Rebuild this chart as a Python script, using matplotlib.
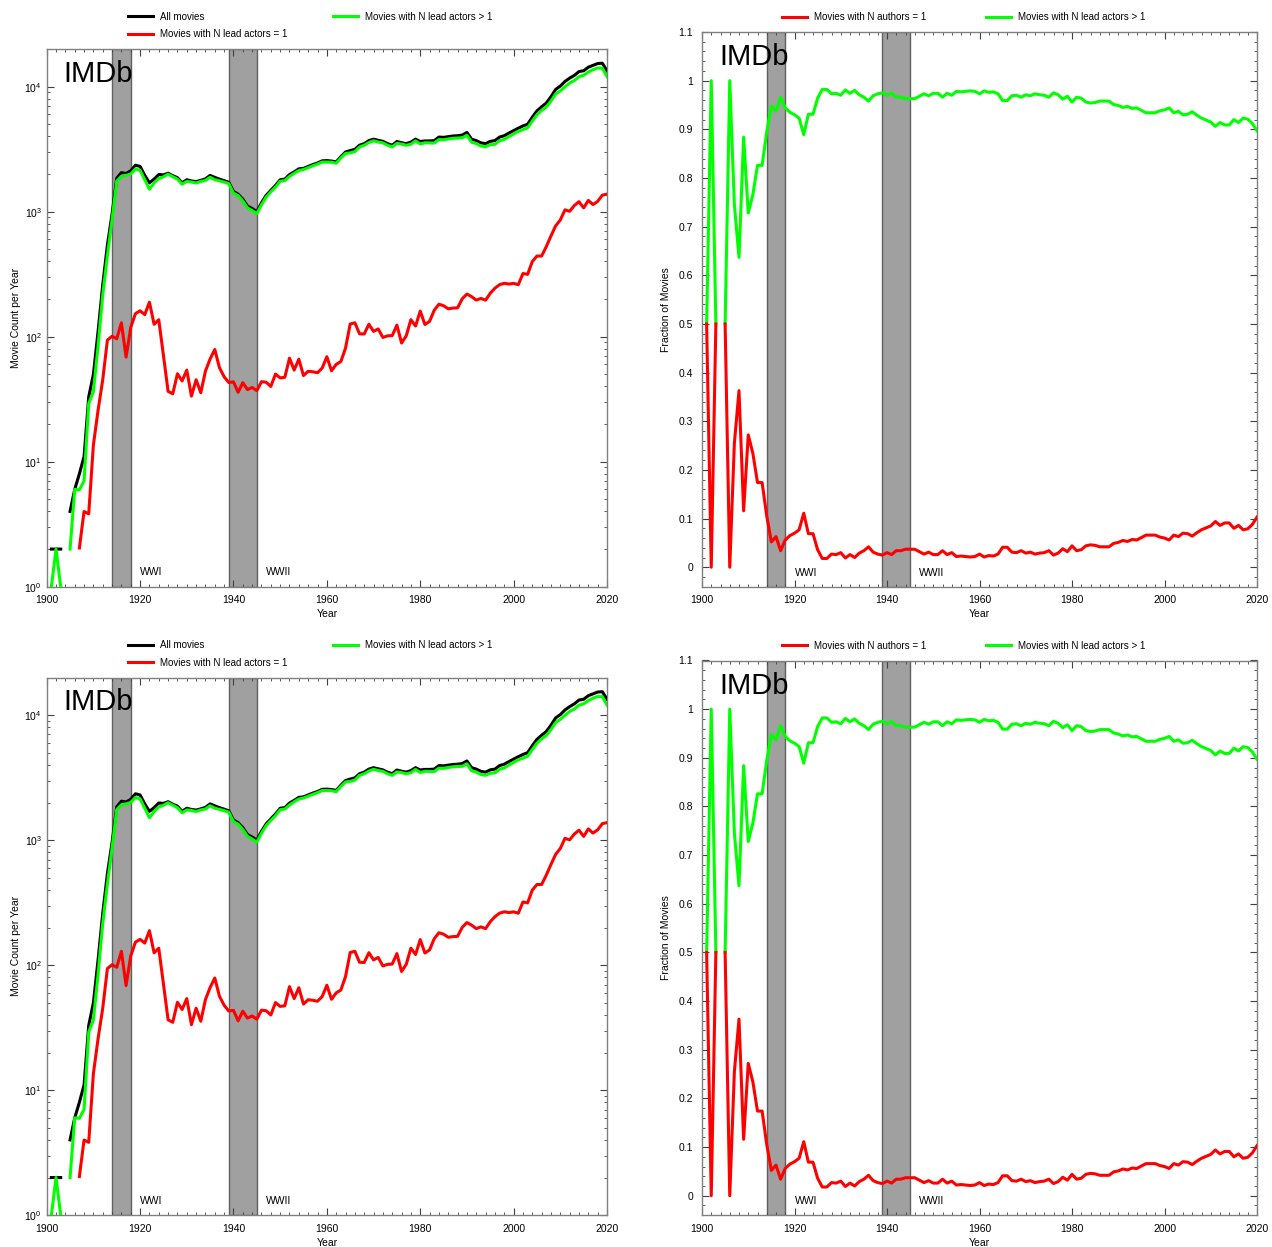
import numpy as np
import matplotlib.pyplot as plt
from matplotlib.ticker import MultipleLocator, FuncFormatter, LogLocator

plt.rcParams['font.family'] = ['Liberation Sans', 'DejaVu Sans']
plt.rcParams['mathtext.fontset'] = 'custom'
plt.rcParams['mathtext.rm'] = 'Liberation Sans'
plt.rcParams['mathtext.it'] = 'Liberation Sans:italic'

years = np.arange(1901, 2021)

# total movies per year (1904 had none)
all_movies = [
    2, 2, 2, np.nan, 4, 6, 8, 11, 33, 50,                                  # 1901-1910
    110, 260, 540, 960, 1850, 2050, 2020, 2120, 2350, 2300,                # 1911-1920
    1950, 1700, 1820, 1980, 1970, 2030, 1940, 1870, 1700, 1800,            # 1921-1930
    1760, 1740, 1780, 1830, 1950, 1880, 1820, 1770, 1718, 1450,            # 1931-1940
    1380, 1260, 1110, 1060, 1000, 1180, 1350, 1480, 1620, 1800,            # 1941-1950
    1820, 1980, 2080, 2200, 2220, 2300, 2380, 2450, 2550, 2560,            # 1951-1960
    2540, 2500, 2750, 3000, 3080, 3150, 3400, 3500, 3700, 3800,            # 1961-1970
    3720, 3650, 3500, 3400, 3640, 3560, 3500, 3600, 3800, 3640,            # 1971-1980
    3680, 3680, 3700, 3950, 3930, 3980, 4030, 4050, 4100, 4300,            # 1981-1990
    3800, 3700, 3550, 3500, 3650, 3700, 3950, 4050, 4250, 4450,            # 1991-2000
    4650, 4850, 5000, 5700, 6400, 6900, 7400, 8300, 9500, 10100,           # 2001-2010
    11000, 11700, 12300, 13200, 13400, 14300, 14800, 15300, 15400, 13400,  # 2011-2020
]

# fraction of movies with a single lead
frac_single = [
    .5, 0, .5, np.nan, .5, 0, .255, .363, .116, .272,
    .234, .174, .174, .105, .052, .063, .034, .056, .065, .070,
    .077, .111, .069, .069, .036, .018, .018, .027, .026, .030,
    .019, .026, .020, .029, .034, .042, .031, .027, .025, .030,
    .026, .034, .034, .037, .037, .037, .032, .027, .031, .026,
    .026, .034, .026, .030, .022, .023, .022, .021, .022, .027,
    .021, .024, .023, .027, .041, .041, .031, .030, .034, .029,
    .031, .027, .029, .030, .034, .025, .029, .038, .032, .044,
    .034, .036, .044, .046, .045, .042, .042, .042, .049, .051,
    .055, .053, .057, .056, .061, .066, .066, .066, .062, .060,
    .056, .066, .063, .070, .069, .064, .071, .077, .081, .085,
    .094, .086, .091, .091, .080, .086, .077, .079, .088, .103,
]

wars = [(1914, 1918, 'WWI'), (1939, 1945, 'WWII')]

all_arr = np.array(all_movies, dtype=float)
frac_arr = np.array(frac_single, dtype=float)
single = all_arr * frac_arr
multi = all_arr - single
frac_multi = 1 - frac_arr

W, H = 1272, 1247
fig = plt.figure(figsize=(W / 100, H / 100), dpi=100)

spine_c = '#808080'
band_face = '#a0a0a0'
band_edge = '#606060'


def style(ax):
    for s in ax.spines.values():
        s.set_color(spine_c)
        s.set_linewidth(1.0)
    ax.tick_params(which='both', direction='in', top=True, right=True,
                   labelsize=7.5, color='#404040')
    ax.tick_params(which='major', length=5, width=0.8)
    ax.tick_params(which='minor', length=2.5, width=0.6)
    ax.tick_params(axis='x', pad=6)
    ax.set_xlim(1900, 2020)
    ax.xaxis.set_major_locator(MultipleLocator(20))
    ax.xaxis.set_minor_locator(MultipleLocator(2))
    ax.set_xlabel('Year', fontsize=7.5, labelpad=3)


for row, off in enumerate([0, 628.5]):
    # counts panel
    ax = fig.add_axes([46.7 / W, 1 - (586.7 + off) / H, 560.3 / W, 537.7 / H])
    for a, b, name in wars:
        ax.axvspan(a, b, facecolor=band_face, edgecolor=band_edge, lw=1.0, zorder=1)
    ax.set_yscale('log', nonpositive='mask')
    l_all, = ax.plot(years, all_arr, color='black', lw=2.2, zorder=3)
    l_multi, = ax.plot(years, multi, color='#00ff00', lw=2.2, zorder=4)
    l_single, = ax.plot(years, single, color='#ff0000', lw=2.2, zorder=5)
    ax.set_ylim(1, 2e4)
    ax.yaxis.set_minor_locator(LogLocator(base=10, subs=np.arange(2, 10)))
    style(ax)
    ax.set_ylabel('Movie Count per Year', fontsize=7.5)
    ax.yaxis.set_label_coords(-0.046, 0.5)
    for a, b, name in wars:
        ax.text(a + 6 if name == 'WWI' else b + 2, 1.3, name, fontsize=7.5, va='center')
    ax.text(0.029, 0.939, 'IMDb', transform=ax.transAxes, fontsize=21, va='baseline')
    ax.legend([l_all, l_single, l_multi],
              ['All movies', 'Movies with N lead actors = 1', 'Movies with N lead actors > 1'],
              loc='center left', bbox_to_anchor=(0.145, 1.0437), ncol=2, frameon=False,
              fontsize=7, borderpad=0, borderaxespad=0, handlelength=2.6,
              handletextpad=0.7, columnspacing=4.7, labelspacing=0.75)

    # fraction panel
    ax2 = fig.add_axes([702 / W, 1 - (586.7 + off) / H, 555 / W, 554.7 / H])
    for a, b, name in wars:
        ax2.axvspan(a, b, facecolor=band_face, edgecolor=band_edge, lw=1.0, zorder=1)
    r1, = ax2.plot(years, frac_multi, color='#00ff00', lw=2.2, zorder=3)
    r2, = ax2.plot(years, frac_arr, color='#ff0000', lw=2.2, zorder=4)
    ax2.set_ylim(-0.04, 1.1)
    ax2.set_yticks(np.arange(0, 1.101, 0.1))
    ax2.yaxis.set_major_formatter(FuncFormatter(lambda v, p: f'{v:g}'))
    ax2.yaxis.set_minor_locator(MultipleLocator(0.02))
    style(ax2)
    ax2.tick_params(axis='y', pad=6.5)
    ax2.set_ylabel('Fraction of Movies', fontsize=7.5)
    ax2.yaxis.set_label_coords(-0.055, 0.5)
    for a, b, name in wars:
        ax2.text(a + 6 if name == 'WWI' else b + 2, -0.011, name, fontsize=7.5, va='center')
    ax2.text(0.0306, 0.9405, 'IMDb', transform=ax2.transAxes, fontsize=21, va='baseline')
    ax2.legend([r2, r1], ['Movies with N authors = 1', 'Movies with N lead actors > 1'],
               loc='center left', bbox_to_anchor=(0.144, 1.027), ncol=2, frameon=False,
               fontsize=7, borderpad=0, borderaxespad=0, handlelength=2.6,
               handletextpad=0.7, columnspacing=6.1)

fig.savefig('out.png', dpi=100)
